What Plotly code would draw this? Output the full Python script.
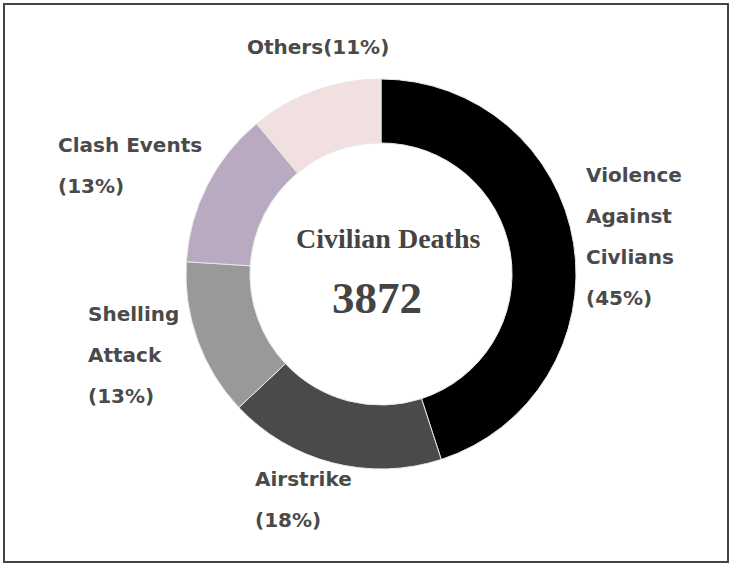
import plotly.graph_objects as go

# ---- data ----
categories = ["Violence Against Civlians", "Airstrike", "Shelling Attack", "Clash Events", "Others"]
shares = [45, 18, 13, 13, 11]
total_deaths = 3872
center_title = "Civilian Deaths"
colors = ["#000000", "#4a4a4a", "#999999", "#b9a9c1", "#f2e0e1"]

W, H = 732, 564

# donut placement (pixels)
cx, cy, R = 381, 274, 195

fig = go.Figure(go.Pie(
    labels=categories,
    values=shares,
    sort=False,
    direction="clockwise",
    rotation=0,
    hole=0.672,
    marker=dict(colors=colors, line=dict(color="#e8e8e8", width=1)),
    textinfo="none",
    hoverinfo="label+percent",
    showlegend=False,
    domain=dict(x=[(cx - R) / W, (cx + R) / W],
                y=[(H - cy - R) / H, (H - cy + R) / H]),
))

# label line layout (style/positions) per category
label_lines = {
    "Violence Against Civlians": ["Violence", "Against", "Civlians", "{p}"],
    "Airstrike": ["Airstrike", "{p}"],
    "Shelling Attack": ["Shelling", "Attack", "{p}"],
    "Clash Events": ["Clash Events", "{p}"],
    "Others": ["Others{p}"],
}
label_pos = {  # (x_px, first line center y_px, anchor)
    "Violence Against Civlians": (584, 175, "left"),
    "Airstrike": (253, 479, "left"),
    "Shelling Attack": (86, 314, "left"),
    "Clash Events": (56, 145, "left"),
    "Others": (318, 47, "center"),
}
line_gap = 41

annotations = []
for cat, val in zip(categories, shares):
    x, y0, anchor = label_pos[cat]
    for i, ln in enumerate(label_lines[cat]):
        annotations.append(dict(
            text=ln.format(p=f"({val}%)"),
            x=x / W, y=1 - (y0 + i * line_gap) / H,
            xref="paper", yref="paper",
            xanchor=anchor, yanchor="middle",
            showarrow=False,
            font=dict(family="DejaVu Sans", size=20, color="#4a4a4a", weight="bold"),
        ))

annotations.append(dict(
    text=center_title, x=388 / W, y=1 - 239 / H, xref="paper", yref="paper",
    xanchor="center", yanchor="middle", showarrow=False,
    font=dict(family="Liberation Serif", size=28, color="#444444", weight="bold"),
))
annotations.append(dict(
    text=str(total_deaths), x=377 / W, y=1 - 298 / H, xref="paper", yref="paper",
    xanchor="center", yanchor="middle", showarrow=False,
    font=dict(family="Liberation Serif", size=45, color="#444444", weight="bold"),
))

fig.update_layout(
    width=W, height=H,
    margin=dict(l=0, r=0, t=0, b=0),
    paper_bgcolor="white",
    plot_bgcolor="white",
    annotations=annotations,
    shapes=[dict(type="rect", xref="paper", yref="paper",
                 x0=4 / W, x1=728 / W, y0=1 - 562 / H, y1=1 - 4 / H,
                 line=dict(color="#444444", width=2))],
)

fig.write_html("out.html",
               config={"displayModeBar": False},
               post_script="document.body.style.margin='0';document.body.style.overflow='hidden';")
